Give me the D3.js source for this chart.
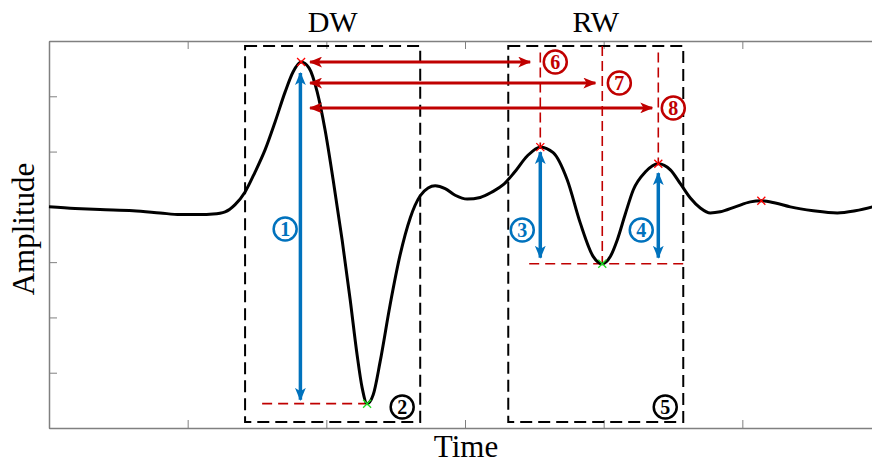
<!DOCTYPE html>
<html>
<head>
<meta charset="utf-8">
<script src="https://cdn.jsdelivr.net/npm/d3@7"></script>
<style>
  body { margin: 0; background: #fff; }
  text { font-family: "Liberation Serif", "Times New Roman", serif; }
</style>
</head>
<body>
<div id="chart"></div>
<script>
// waveform samples: time, amplitude
var time = [0, 18.8, 36.8, 60.6, 80.1, 94.5, 108.9, 118.3, 127.0, 134.2, 141.4, 148.6, 155.8, 163.1, 170.3, 176.0,
  181.8, 187.6, 193.4, 199.1, 204.9, 211.4, 217.2, 222.2, 225.8, 229.4, 233.8, 238.8, 246.0, 253.2, 260.5, 267.7,
  273.4, 278.5, 285.7, 292.9, 301.6, 311.0, 319.6, 327.6, 335.5, 344.9, 354.3, 363.6, 373.7, 383.1, 392.5, 399.0,
  404.8, 409.8, 415.6, 421.4, 430.0, 439.4, 448.1, 455.3, 462.5, 469.7, 476.9, 484.1, 494.9, 505.8, 513.7, 523.8,
  534.6, 551.2, 568.5, 581.5, 593.8, 599.6]
var amp = [0, -0.03, -0.05, -0.07, -0.11, -0.14, -0.14, -0.13, -0.09, 0.04, 0.27, 0.63, 1.03, 1.54, 2.08, 2.44,
  2.62, 2.51, 2.08, 1.39, 0.49, -0.60, -1.68, -2.68, -3.27, -3.56, -3.40, -2.80, -1.77, -0.87, -0.20, 0.20,
  0.34, 0.38, 0.33, 0.21, 0.14, 0.17, 0.27, 0.40, 0.62, 0.92, 1.08, 0.98, 0.49, -0.29, -0.90, -1.03,
  -0.90, -0.60, -0.13, 0.31, 0.63, 0.78, 0.67, 0.42, 0.16, -0.02, -0.11, -0.09, 0.00, 0.09, 0.11, 0.07,
  0.00, -0.07, -0.11, -0.07, 0.00, 0.04]

var xTicks = [0, 100, 200, 300, 400, 500, 600]
var yTicks = [-4, -3, -2, -1, 0, 1, 2, 3]

// marked extrema
var peaks = [[181.8, 2.62], [354.3, 1.08], [439.4, 0.78], [513.7, 0.11]]
var troughs = [[229.4, -3.56], [399.0, -1.03]]

// windows
var windows = [
  {name: "DW", t0: 141.4, t1: 267.7, a0: -3.89, a1: 2.91},
  {name: "RW", t0: 331.2, t1: 457.4, a0: -3.89, a1: 2.91}
]

// horizontal red arrows (6,7,8): from DW peak to each RW point
var hArrows = [
  {t0: 188.3, t1: 347.0, a: 2.62},
  {t0: 188.3, t1: 394.0, a: 2.24},
  {t0: 188.3, t1: 435.0, a: 1.79}
]
// red dashed verticals
var vDash = [
  {t: 354.3, a0: 2.79, a1: 1.08},
  {t: 399.0, a0: 2.91, a1: -1.03},
  {t: 439.4, a0: 2.79, a1: 0.78}
]
// red dashed horizontals
var hDash = [
  {t0: 153.7, t1: 229.4, a: -3.56},
  {t0: 346.3, t1: 457.4, a: -1.03}
]
// blue amplitude arrows (1,3,4)
var vArrows = [
  {t: 181.3, a0: 2.42, a1: -3.49},
  {t: 354.3, a0: 0.99, a1: -0.92},
  {t: 439.4, a0: 0.61, a1: -0.92}
]
// circled numbers
var labels = [
  {n: "1", t: 170.3, a: -0.40, c: "#0072bd"},
  {n: "2", t: 254.7, a: -3.62, c: "#000"},
  {n: "3", t: 341.3, a: -0.42, c: "#0072bd"},
  {n: "4", t: 427.1, a: -0.42, c: "#0072bd"},
  {n: "5", t: 444.4, a: -3.62, c: "#000"},
  {n: "6", t: 365.1, a: 2.62, c: "#c00000"},
  {n: "7", t: 411.3, a: 2.24, c: "#c00000"},
  {n: "8", t: 450.2, a: 1.79, c: "#c00000"}
]

var W = 872, H = 463
var margin = {top: 41, right: -9, bottom: 35, left: 49}
var width = W - margin.left - margin.right
var height = H - margin.top - margin.bottom

var red = "#c00000", blue = "#0072bd"

var svg = d3.select("#chart").append("svg")
  .attr("width", W).attr("height", H)

var defs = svg.append("defs")
function arrowMarker(id, color, w, h) {
  defs.append("marker")
    .attr("id", id)
    .attr("viewBox", "0 0 12 10")
    .attr("refX", 11).attr("refY", 5)
    .attr("markerUnits", "userSpaceOnUse")
    .attr("markerWidth", w).attr("markerHeight", h)
    .attr("orient", "auto-start-reverse")
    .append("path")
    .attr("d", "M0,0 L12,5 L0,10 L3,5 z")
    .attr("fill", color)
}
arrowMarker("ar", red, 13, 11)
arrowMarker("ab", blue, 13, 12)

var x = d3.scaleLinear().domain([0, 600]).range([0, width])
var y = d3.scaleLinear().domain([-4, 3]).range([height, 0])

var g = svg.append("g").attr("transform", "translate(" + margin.left + "," + margin.top + ")")

// axes, MATLAB style: inward ticks all round, no labels
var axCol = "#808080"
function styleAxis(sel) {
  sel.selectAll("path").attr("stroke", axCol).attr("stroke-width", 1.5)
  sel.selectAll("line").attr("stroke", axCol).attr("stroke-width", 1)
  sel.selectAll("text").remove()
}
g.append("g").attr("transform", "translate(0," + height + ")")
  .call(d3.axisBottom(x).tickValues(xTicks).tickSizeInner(-8).tickSizeOuter(0)).call(styleAxis)
g.append("g")
  .call(d3.axisTop(x).tickValues(xTicks).tickSizeInner(-8).tickSizeOuter(0)).call(styleAxis)
g.append("g")
  .call(d3.axisLeft(y).tickValues(yTicks).tickSizeInner(-8).tickSizeOuter(0)).call(styleAxis)
g.append("g").attr("transform", "translate(" + width + ",0)")
  .call(d3.axisRight(y).tickValues(yTicks).tickSizeInner(-8).tickSizeOuter(0)).call(styleAxis)

// window boxes
g.selectAll(".win").data(windows).enter().append("rect")
  .attr("x", d => x(d.t0)).attr("y", d => y(d.a1))
  .attr("width", d => x(d.t1) - x(d.t0)).attr("height", d => y(d.a0) - y(d.a1))
  .attr("fill", "none").attr("stroke", "#000").attr("stroke-width", 2)
  .attr("stroke-dasharray", "12,6")

g.selectAll(".winlab").data(windows).enter().append("text")
  .attr("x", d => (x(d.t0) + x(d.t1)) / 2).attr("y", -9)
  .attr("text-anchor", "middle").attr("font-size", 30)
  .text(d => d.name)

// red dashed guides
g.selectAll(".vd").data(vDash).enter().append("line")
  .attr("x1", d => x(d.t)).attr("x2", d => x(d.t))
  .attr("y1", d => y(d.a0)).attr("y2", d => y(d.a1))
  .attr("stroke", red).attr("stroke-width", 1.6).attr("stroke-dasharray", "10,5")
g.selectAll(".hd").data(hDash).enter().append("line")
  .attr("x1", d => x(d.t0)).attr("x2", d => x(d.t1))
  .attr("y1", d => y(d.a)).attr("y2", d => y(d.a))
  .attr("stroke", red).attr("stroke-width", 1.6).attr("stroke-dasharray", "10,6")

// waveform
var pts = time.map((t, i) => [t, amp[i]])
var line = d3.line().x(d => x(d[0])).y(d => y(d[1])).curve(d3.curveMonotoneX)
g.append("path").datum(pts)
  .attr("d", line)
  .attr("fill", "none").attr("stroke", "#000").attr("stroke-width", 3)
  .attr("stroke-linejoin", "round")

// arrows
g.selectAll(".ha").data(hArrows).enter().append("line")
  .attr("x1", d => x(d.t0)).attr("x2", d => x(d.t1))
  .attr("y1", d => y(d.a)).attr("y2", d => y(d.a))
  .attr("stroke", red).attr("stroke-width", 3)
  .attr("marker-start", "url(#ar)").attr("marker-end", "url(#ar)")
g.selectAll(".va").data(vArrows).enter().append("line")
  .attr("x1", d => x(d.t)).attr("x2", d => x(d.t))
  .attr("y1", d => y(d.a0)).attr("y2", d => y(d.a1))
  .attr("stroke", blue).attr("stroke-width", 3.5)
  .attr("marker-start", "url(#ab)").attr("marker-end", "url(#ab)")

// extrema markers
function cross(sel, color) {
  sel.append("path")
    .attr("d", "M-4,-4L4,4M-4,4L4,-4")
    .attr("stroke", color).attr("stroke-width", 1.3)
}
g.selectAll(".pk").data(peaks).enter().append("g")
  .attr("transform", d => "translate(" + x(d[0]) + "," + y(d[1]) + ")")
  .call(cross, "#ff0000")
g.selectAll(".tr").data(troughs).enter().append("g")
  .attr("transform", d => "translate(" + x(d[0]) + "," + y(d[1]) + ")")
  .call(cross, "#22dd22")

// circled numbers
var lab = g.selectAll(".lab").data(labels).enter().append("g")
  .attr("transform", d => "translate(" + x(d.t) + "," + y(d.a) + ")")
lab.append("circle").attr("r", 11.5)
  .attr("fill", "#fff").attr("stroke", d => d.c).attr("stroke-width", 2.5)
lab.append("text").attr("text-anchor", "middle").attr("dy", "0.35em")
  .attr("font-size", 20).attr("font-weight", "bold").attr("fill", d => d.c)
  .text(d => d.n)

// axis titles
svg.append("text")
  .attr("x", 466).attr("y", 457)
  .attr("text-anchor", "middle").attr("font-size", 31)
  .text("Time")
svg.append("text")
  .attr("transform", "translate(34,229) rotate(-90)")
  .attr("text-anchor", "middle").attr("font-size", 31)
  .text("Amplitude")
</script>
</body>
</html>
